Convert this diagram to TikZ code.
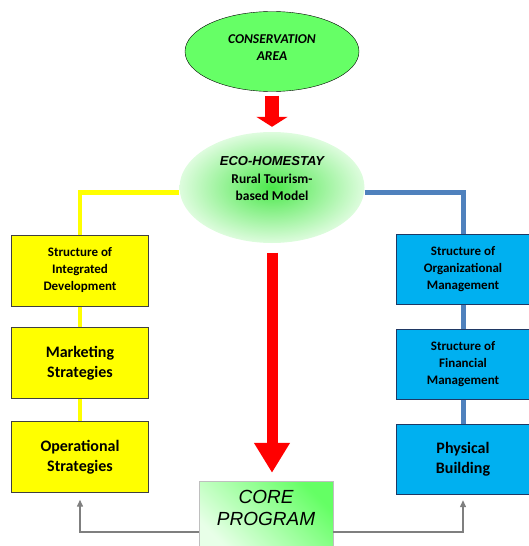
\documentclass[tikz,border=0pt]{standalone}
\usepackage{fontspec}
\setmainfont{Carlito}
\newfontfamily\arialfont{Liberation Sans}
\usetikzlibrary{arrows.meta,shapes.geometric,backgrounds}

\definecolor{areagreen}{RGB}{102,255,102}
\definecolor{hubinner}{RGB}{75,232,75}
\definecolor{hubouter}{RGB}{222,252,222}
\definecolor{boxyellow}{RGB}{255,255,0}
\definecolor{boxblue}{RGB}{0,176,240}
\definecolor{blueedge}{RGB}{31,56,100}
\definecolor{blueline}{RGB}{79,129,189}
\definecolor{coregreen}{RGB}{100,255,100}
\definecolor{corelight}{RGB}{232,255,232}
\definecolor{linkgray}{RGB}{127,127,127}

\begin{document}
\begin{tikzpicture}[x=1pt,y=-1pt,
	areaoval/.style={ellipse,draw=black,fill=areagreen,minimum width=174,minimum height=80,align=center,
		font=\fontsize{13.5}{17}\selectfont\bfseries\itshape},
	huboval/.style={ellipse,inner color=hubinner,outer color=hubouter,minimum width=185,minimum height=111,align=center,
		font=\fontsize{13.5}{17.5}\selectfont\bfseries},
	yellowbox/.style={draw=black!75,fill=boxyellow,minimum width=137,minimum height=71,align=center},
	bluebox/.style={draw=blueedge,fill=boxblue,minimum width=134,minimum height=70,align=center},
	smalltext/.style={font=\fontsize{13}{17}\selectfont\bfseries},
	bigtext/.style={font=\fontsize{16}{20}\selectfont\bfseries},
	corebox/.style={draw=black!25,left color=corelight,right color=coregreen,shading angle=135,
		minimum width=134,minimum height=70,align=center,font=\fontsize{19}{22}\selectfont\arialfont\itshape},
	redarrow/.style={draw=red,line cap=butt},
	yellowline/.style={draw=boxyellow,line width=4.5pt},
	bluelink/.style={draw=blueline,line width=5pt},
	graylink/.style={draw=linkgray,line width=1.3pt,-{Triangle[length=7pt,width=6pt]}}]
	\useasboundingbox (0,0) rectangle (529,546);
	
	%ovals
	\node[areaoval] (area) at (272,51.5) {CONSERVATION\\AREA\\[-9pt]\mbox{}};
	\node[huboval] (hub) at (272,187.5) {{\arialfont\itshape\fontsize{13}{17.5}\selectfont ECO-HOMESTAY}\\Rural Tourism-\\based Model\\\mbox{}};
	
	%left column
	\node[yellowbox,smalltext] (intdev) at (80,270.5) {Structure of\\Integrated\\Development};
	\node[yellowbox,bigtext] (market) at (80,363) {Marketing\\Strategies};
	\node[yellowbox,bigtext] (operat) at (80,457) {Operational\\Strategies};
	
	%right column
	\node[bluebox,smalltext] (orgman) at (463,269) {Structure of\\Organizational\\Management};
	\node[bluebox,smalltext] (finman) at (463,364) {Structure of\\Financial\\Management};
	\node[bluebox,bigtext] (physic) at (463,459) {Physical\\Building};
	
	%core
	\node[corebox] (core) at (266,516) {CORE\\PROGRAM\\[-6pt]\mbox{}};
	
	%links
	\begin{scope}[on background layer]
	\draw[yellowline] ([yshift=-5pt]hub.west) -| (intdev.north);
	\draw[yellowline] (intdev) -- (market);
	\draw[yellowline] (market) -- (operat);
	\draw[bluelink] ([yshift=-5pt]hub.east) -| (orgman.north);
	\draw[bluelink] (orgman) -- (finman);
	\draw[bluelink] (finman) -- (physic);
	\end{scope}
	
	%red arrows
	\draw[redarrow,line width=14pt,-{Triangle[width=31pt,length=10pt]},shorten <=4pt,shorten >=5pt] (area) -- (hub);
	\draw[redarrow,line width=11pt,-{Triangle[width=34pt,length=30pt]},shorten <=9.5pt,shorten >=8pt]
	  (hub.south) -- (hub.south |- core.north);
	
	%gray arrows
	\draw[graylink,shorten >=7pt] ([yshift=-16pt]core.west) -| (operat.south);
	\draw[graylink,shorten >=6pt] ([yshift=-16pt]core.east) -| (physic.south);
\end{tikzpicture}
\end{document}
